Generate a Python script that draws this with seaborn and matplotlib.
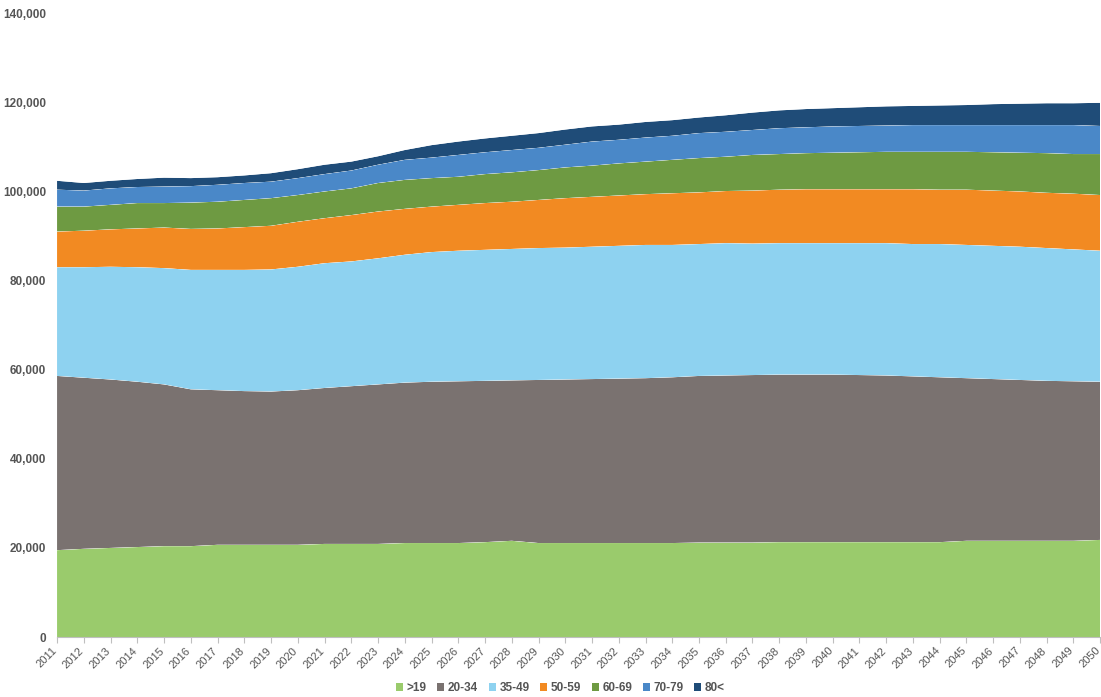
import numpy as np
import pandas as pd
import matplotlib
matplotlib.use("Agg")
import matplotlib.pyplot as plt
from matplotlib.patches import Patch
from matplotlib.ticker import FuncFormatter
from matplotlib.transforms import ScaledTranslation
import seaborn as sns
import seaborn.objects as so

# Population by age group, 2011-2050
years = list(range(2011, 2051))
age_groups = [">19", "20-34", "35-49", "50-59", "60-69", "70-79", "80<"]

age_under_19 = [19500, 19800, 20000, 20200, 20400, 20400, 20700, 20700, 20700, 20700,
                20900, 20900, 20900, 21100, 21100, 21100, 21300, 21600, 21100, 21100,
                21100, 21100, 21100, 21100, 21200, 21200, 21200, 21300, 21300, 21300,
                21300, 21300, 21300, 21300, 21600, 21600, 21600, 21600, 21600, 21800]
age_20_34 = [39100, 38400, 37800, 37100, 36300, 35200, 34700, 34500, 34400, 34700,
             35000, 35400, 35800, 36000, 36200, 36300, 36200, 36000, 36600, 36700,
             36800, 36900, 37000, 37200, 37400, 37500, 37600, 37600, 37600, 37600,
             37500, 37400, 37200, 37000, 36500, 36300, 36100, 35900, 35800, 35500]
age_35_49 = [24400, 24800, 25300, 25700, 26100, 26800, 27000, 27200, 27400, 27700,
             28000, 28000, 28300, 28700, 29100, 29300, 29400, 29500, 29600, 29600,
             29700, 29800, 29900, 29700, 29600, 29700, 29500, 29500, 29500, 29500,
             29600, 29700, 29700, 29900, 29900, 29900, 29900, 29800, 29600, 29400]
age_50_59 = [8000, 8200, 8400, 8700, 9100, 9200, 9300, 9600, 9800, 10100,
             10100, 10400, 10500, 10300, 10200, 10300, 10500, 10600, 10800, 11100,
             11200, 11300, 11400, 11600, 11600, 11700, 11900, 12000, 12100, 12100,
             12100, 12100, 12300, 12200, 12400, 12400, 12400, 12400, 12500, 12500]
age_60_69 = [5600, 5400, 5500, 5700, 5500, 5900, 6000, 6100, 6200, 6000,
             6000, 6000, 6400, 6500, 6400, 6300, 6500, 6600, 6700, 6900,
             7000, 7200, 7300, 7500, 7700, 7700, 8000, 8000, 8100, 8200,
             8300, 8400, 8400, 8500, 8500, 8600, 8700, 8900, 8900, 9200]
age_70_79 = [3800, 3600, 3700, 3600, 3700, 3700, 3800, 3800, 3700, 3800,
             3900, 4000, 4100, 4500, 4600, 4900, 4900, 5000, 5000, 5100,
             5400, 5300, 5400, 5400, 5600, 5600, 5600, 5800, 5800, 5900,
             5900, 5900, 6000, 6000, 6000, 6100, 6200, 6300, 6500, 6300]
age_80_plus = [2000, 1700, 1700, 1800, 2000, 1800, 1700, 1700, 1900, 2000,
               2100, 2000, 1900, 2200, 2800, 3000, 3100, 3200, 3300, 3400,
               3400, 3400, 3500, 3500, 3500, 3700, 3900, 4000, 4100, 4100,
               4200, 4300, 4300, 4400, 4500, 4700, 4800, 4900, 4900, 5200]

series = [age_under_19, age_20_34, age_35_49, age_50_59, age_60_69, age_70_79, age_80_plus]
colors = ["#9ACB6C", "#7A7270", "#8ED2F0", "#F28A22", "#6E9A42", "#4A88C8", "#1F4C78"]

y_ticks = [0, 20000, 40000, 60000, 80000, 100000, 120000, 140000]

sns.set_theme(style="white")
plt.rcParams["font.family"] = ["Liberation Sans", "DejaVu Sans"]

df = pd.DataFrame({
    "year": np.tile(years, len(age_groups)),
    "group": np.repeat(age_groups, len(years)),
    "people": np.concatenate(series),
})

fig = plt.figure(figsize=(11.01, 6.97), dpi=100)
ax = fig.add_axes([0.0518, 0.086, 0.9475, 0.895])

(
    so.Plot(df, x="year", y="people", color="group")
    .add(so.Area(alpha=1, edgewidth=0), so.Stack(), legend=False)
    .scale(color=dict(zip(age_groups, colors)))
    .on(ax)
    .plot()
)

text_gray = "#555555"
ax.set_facecolor("white")
ax.grid(False)
ax.set_xlim(years[0], years[-1])
ax.set_ylim(y_ticks[0], y_ticks[-1])
ax.set_xlabel("")
ax.set_ylabel("")

ax.set_yticks(y_ticks)
ax.yaxis.set_major_formatter(FuncFormatter(lambda v, _: f"{int(v):,}"))
ax.tick_params(axis="y", length=0, pad=8, labelsize=8.5, labelcolor=text_gray)

ax.set_xticks(years)
ax.set_xticklabels([str(y) for y in years])
ax.tick_params(axis="x", which="major", direction="out", length=4, width=0.8,
               color="#BFBFBF", bottom=True, pad=2, labelsize=8,
               labelcolor=text_gray, labelrotation=45)

for side in ["top", "right", "left"]:
    ax.spines[side].set_visible(False)
ax.spines["bottom"].set_visible(True)
ax.spines["bottom"].set_color("#BFBFBF")
ax.spines["bottom"].set_linewidth(0.8)

handles = [Patch(facecolor=c, edgecolor="none", label=g) for g, c in zip(age_groups, colors)]
leg = fig.legend(handles=handles, loc="center", bbox_to_anchor=(0.509, 0.013), ncol=7,
                 frameon=False, handlelength=0.6, handleheight=0.6, handletextpad=0.3,
                 columnspacing=0.9, prop={"size": 8.5, "weight": "bold"})
for t in leg.get_texts():
    t.set_color(text_gray)

# Tick label styling is applied after a first draw so it sticks to the final ticks
fig.canvas.draw()
shift = ScaledTranslation(-5 / 100, 0, fig.dpi_scale_trans)
for lbl in ax.get_xticklabels():
    lbl.set_horizontalalignment("right")
    lbl.set_rotation_mode("anchor")
    lbl.set_transform(lbl.get_transform() + shift)
for lbl in ax.get_yticklabels():
    lbl.set_fontweight("bold")

fig.savefig("out.png", dpi=100, facecolor="white")
